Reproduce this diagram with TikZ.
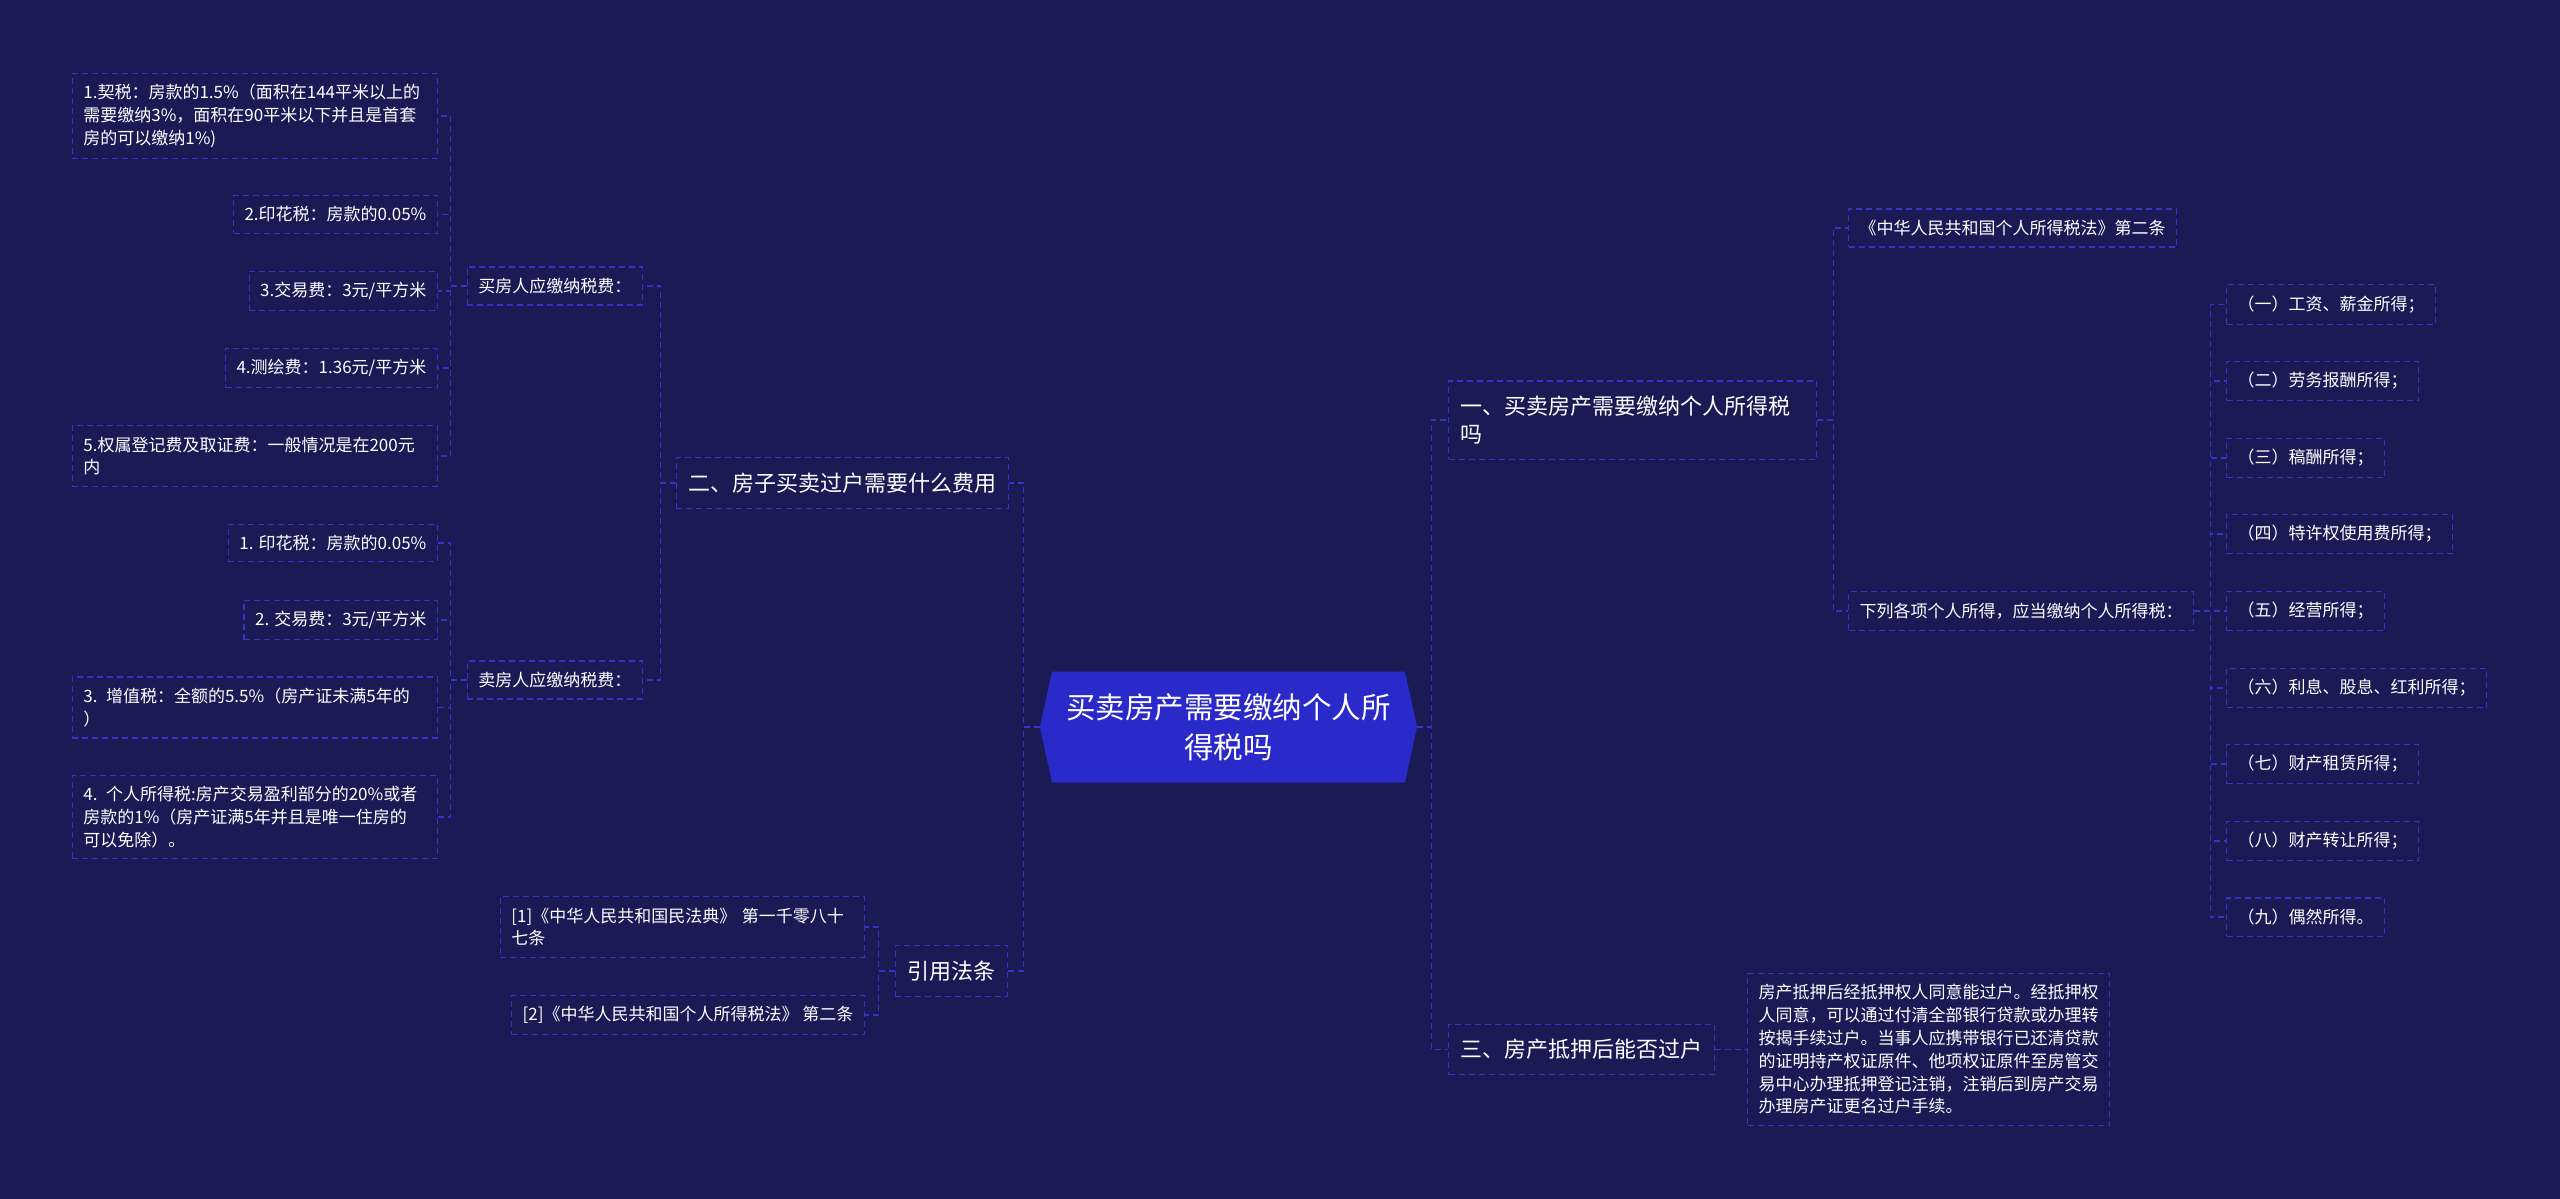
\documentclass[tikz,border=0pt]{standalone}
\usepackage{fontspec}
\setmainfont{Noto Sans CJK SC}
\definecolor{bgc}{HTML}{1A1A55}
\definecolor{edgec}{HTML}{3434C8}
\definecolor{rootc}{HTML}{2A2ACB}

\begin{document}
\begin{tikzpicture}[x=1pt,y=-1pt,
  box/.style={draw=edgec,line width=1.2pt,dash pattern=on 6pt off 4pt,text=white,
    inner xsep=11pt,inner ysep=11pt,align=left,font=\fontsize{17}{22.8}\selectfont},
  major/.style={box,inner xsep=12pt,inner ysep=15pt,font=\fontsize{22}{28}\selectfont},
  link/.style={draw=edgec,line width=1.2pt,dash pattern=on 6pt off 4pt},
  root/.style={fill=bgc,minimum width=377pt,minimum height=111pt,inner sep=0pt,
    align=center,text=white,font=\fontsize{29.5}{40}\selectfont,
    path picture={\fill[rootc] ([xshift=12pt]path picture bounding box.north west)
      -- ([xshift=-12pt]path picture bounding box.north east)
      -- (path picture bounding box.east)
      -- ([xshift=-12pt]path picture bounding box.south east)
      -- ([xshift=12pt]path picture bounding box.south west)
      -- (path picture bounding box.west) -- cycle;}}]
\fill[bgc] (0,0) rectangle (2560,1199);
\useasboundingbox (0,0) rectangle (2560,1199);

\node[root] (root) at (1228.5,727) {买卖房产需要缴纳个人所\\得税吗};

\node[major,anchor=east] (fees) at (1009,483) {二、房子买卖过户需要什么费用};
\node[major,anchor=east] (law) at (1008,971) {引用法条};
\node[box,anchor=east] (buy) at (643,286) {买房人应缴纳税费：};
\node[box,anchor=east] (sell) at (643,680) {卖房人应缴纳税费：};
\node[box,anchor=east,text width=343pt] (b1) at (438,116) {1.契税：房款的1.5\%（面积在144平米以上的\\需要缴纳3\%，面积在90平米以下并且是首套\\房的可以缴纳1\%)};
\node[box,anchor=east] (b2) at (438,214.5) {2.印花税：房款的0.05\%};
\node[box,anchor=east] (b3) at (438,291) {3.交易费：3元/平方米};
\node[box,anchor=east] (b4) at (438,368) {4.测绘费：1.36元/平方米};
\node[box,anchor=east,text width=343pt] (b5) at (438,456) {5.权属登记费及取证费：一般情况是在200元\\内};
\node[box,anchor=east] (s1) at (438,543) {1. 印花税：房款的0.05\%};
\node[box,anchor=east] (s2) at (438,620) {2. 交易费：3元/平方米};
\node[box,anchor=east,text width=343pt] (s3) at (438,707.5) {3. 增值税：全额的5.5\%（房产证未满5年的\\）};
\node[box,anchor=east,text width=343pt] (s4) at (438,817) {4. 个人所得税:房产交易盈利部分的20\%或者\\房款的1\%（房产证满5年并且是唯一住房的\\可以免除）。};
\node[box,anchor=east,text width=342pt] (l1) at (865,927) {[1]《中华人民共和国民法典》 第一千零八十\\七条};
\node[box,anchor=east] (l2) at (865,1015) {[2]《中华人民共和国个人所得税法》 第二条};

\node[major,anchor=west,text width=344pt] (tax) at (1448,420) {一、买卖房产需要缴纳个人所得税\\吗};
\node[major,anchor=west] (mort) at (1448,1049.5) {三、房产抵押后能否过户};
\node[box,anchor=west] (art) at (1848,228) {《中华人民共和国个人所得税法》第二条};
\node[box,anchor=west] (list) at (1848,611) {下列各项个人所得，应当缴纳个人所得税：};
\node[box,anchor=west] (i1) at (2226,304.5) {（一）工资、薪金所得；};
\node[box,anchor=west] (i2) at (2226,381) {（二）劳务报酬所得；};
\node[box,anchor=west] (i3) at (2226,458) {（三）稿酬所得；};
\node[box,anchor=west] (i4) at (2226,534) {（四）特许权使用费所得；};
\node[box,anchor=west] (i5) at (2226,611) {（五）经营所得；};
\node[box,anchor=west] (i6) at (2226,688) {（六）利息、股息、红利所得；};
\node[box,anchor=west] (i7) at (2226,764) {（七）财产租赁所得；};
\node[box,anchor=west] (i8) at (2226,841) {（八）财产转让所得；};
\node[box,anchor=west] (i9) at (2226,917) {（九）偶然所得。};
\node[box,anchor=west,text width=340pt] (mtxt) at (1747,1049.5) {房产抵押后经抵押权人同意能过户。经抵押权\\人同意，可以通过付清全部银行贷款或办理转\\按揭手续过户。当事人应携带银行已还清贷款\\的证明持产权证原件、他项权证原件至房管交\\易中心办理抵押登记注销，注销后到房产交易\\办理房产证更名过户手续。};

\draw[link] (root.west) -- ++(-16,0) |- (fees.east);
\draw[link] (root.west) -- ++(-16,0) |- (law.east);
\draw[link] (fees.west) -- ++(-15,0) |- (buy.east);
\draw[link] (fees.west) -- ++(-15,0) |- (sell.east);
\draw[link] (buy.west) -- ++(-16,0) |- (b1.east);
\draw[link] (buy.west) -- ++(-16,0) |- (b2.east);
\draw[link] (buy.west) -- ++(-16,0) |- (b3.east);
\draw[link] (buy.west) -- ++(-16,0) |- (b4.east);
\draw[link] (buy.west) -- ++(-16,0) |- (b5.east);
\draw[link] (sell.west) -- ++(-16,0) |- (s1.east);
\draw[link] (sell.west) -- ++(-16,0) |- (s2.east);
\draw[link] (sell.west) -- ++(-16,0) |- (s3.east);
\draw[link] (sell.west) -- ++(-16,0) |- (s4.east);
\draw[link] (law.west) -- ++(-16,0) |- (l1.east);
\draw[link] (law.west) -- ++(-16,0) |- (l2.east);

\draw[link] (root.east) -- ++(14,0) |- (tax.west);
\draw[link] (root.east) -- ++(14,0) |- (mort.west);
\draw[link] (tax.east) -- ++(16,0) |- (art.west);
\draw[link] (tax.east) -- ++(16,0) |- (list.west);
\draw[link] (list.east) -- ++(16,0) |- (i1.west);
\draw[link] (list.east) -- ++(16,0) |- (i2.west);
\draw[link] (list.east) -- ++(16,0) |- (i3.west);
\draw[link] (list.east) -- ++(16,0) |- (i4.west);
\draw[link] (list.east) -- ++(16,0) |- (i5.west);
\draw[link] (list.east) -- ++(16,0) |- (i6.west);
\draw[link] (list.east) -- ++(16,0) |- (i7.west);
\draw[link] (list.east) -- ++(16,0) |- (i8.west);
\draw[link] (list.east) -- ++(16,0) |- (i9.west);
\draw[link] (mort.east) -- (mtxt.west);
\end{tikzpicture}
\end{document}
